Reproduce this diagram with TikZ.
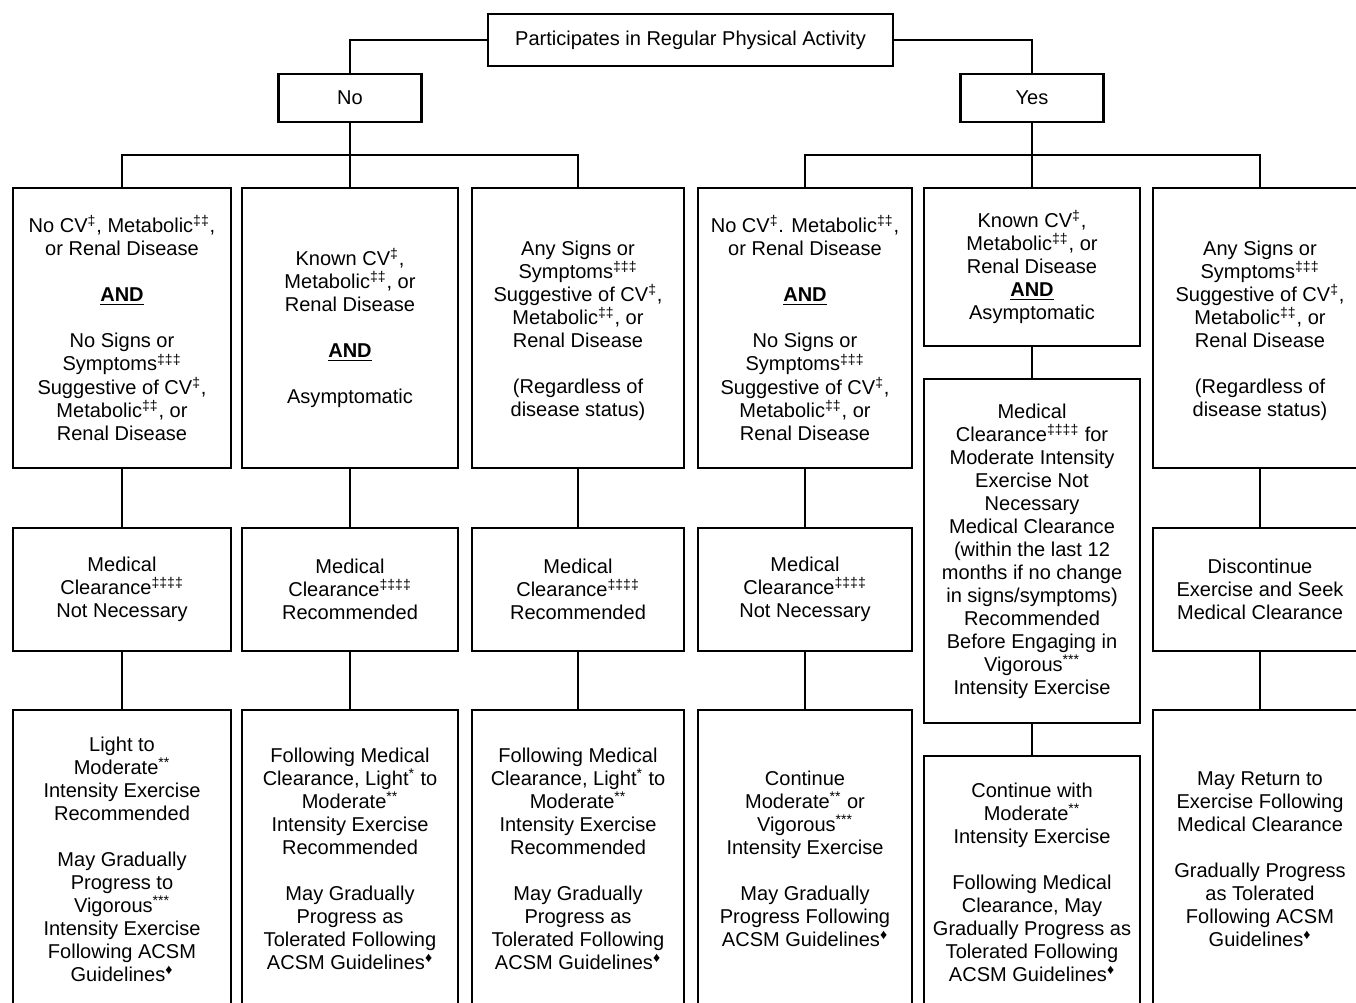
\documentclass[tikz,border=0pt]{standalone}
\usepackage{fontspec}
\setmainfont{Liberation Sans}
\newcommand{\supx}[1]{\textsuperscript{#1}}
\newcommand{\andx}{\underline{\textbf{AND}}}
\newcommand{\topgap}[1]{\rule{0pt}{#1}}
\begin{document}
\begin{tikzpicture}[x=0.02cm,y=-0.02cm,
  bx/.style={draw, line width=1.4pt, align=center, inner sep=0pt,
    font=\fontsize{11.4}{13.1}\selectfont},
  conn/.style={draw, line width=1.1pt}]
\useasboundingbox (0,0) rectangle (1356,1003);
% top level
\node[bx, minimum width=8.1cm, minimum height=1.04cm] (top) at (690.5,40) {Participates in Regular Physical Activity};
\node[bx, minimum width=2.86cm, minimum height=0.96cm] (no) at (350,98) {No};
\node[bx, minimum width=2.86cm, minimum height=0.96cm] (yes) at (1032,98) {Yes};
% row 1
\node[bx, minimum width=4.36cm, minimum height=5.6cm] (c1r1) at (122,328) {No CV\supx{‡}, Metabolic\supx{‡‡},\\ or Renal Disease\\[13.1pt] \andx\\[13.1pt] No Signs or\\ Symptoms\supx{‡‡‡}\\ Suggestive of CV\supx{‡},\\ Metabolic\supx{‡‡}, or\\ Renal Disease};
\node[bx, minimum width=4.32cm, minimum height=5.6cm] (c2r1) at (350,328) {Known CV\supx{‡},\\ Metabolic\supx{‡‡}, or\\ Renal Disease\\[13.1pt] \andx\\[13.1pt] Asymptomatic};
\node[bx, minimum width=4.24cm, minimum height=5.6cm] (c3r1) at (578,328) {\topgap{11.3pt}Any Signs or\\ Symptoms\supx{‡‡‡}\\ Suggestive of CV\supx{‡},\\ Metabolic\supx{‡‡}, or\\ Renal Disease\\[13.1pt] (Regardless of\\ disease status)};
\node[bx, minimum width=4.28cm, minimum height=5.6cm] (c4r1) at (805,328) {No CV\supx{‡}. Metabolic\supx{‡‡},\\ or Renal Disease\\[13.1pt] \andx\\[13.1pt] No Signs or\\ Symptoms\supx{‡‡‡}\\ Suggestive of CV\supx{‡},\\ Metabolic\supx{‡‡}, or\\ Renal Disease};
\node[bx, minimum width=4.32cm, minimum height=3.16cm] (c5r1) at (1032,267) {Known CV\supx{‡},\\ Metabolic\supx{‡‡}, or\\ Renal Disease\\ \andx\\ Asymptomatic};
\node[bx, minimum width=4.28cm, minimum height=5.6cm] (c6r1) at (1260,328) {\topgap{11.3pt}Any Signs or\\ Symptoms\supx{‡‡‡}\\ Suggestive of CV\supx{‡},\\ Metabolic\supx{‡‡}, or\\ Renal Disease\\[13.1pt] (Regardless of\\ disease status)};
% row 2
\node[bx, minimum width=4.36cm, minimum height=2.46cm] (c1r2) at (122,589.5) {Medical\\ Clearance\supx{‡‡‡‡}\\ Not Necessary};
\node[bx, minimum width=4.32cm, minimum height=2.46cm] (c2r2) at (350,589.5) {Medical\\ Clearance\supx{‡‡‡‡}\\ Recommended};
\node[bx, minimum width=4.24cm, minimum height=2.46cm] (c3r2) at (578,589.5) {Medical\\ Clearance\supx{‡‡‡‡}\\ Recommended};
\node[bx, minimum width=4.28cm, minimum height=2.46cm] (c4r2) at (805,589.5) {Medical\\ Clearance\supx{‡‡‡‡}\\ Not Necessary};
\node[bx, minimum width=4.32cm, minimum height=6.88cm] (c5r2) at (1032,551) {Medical\\ Clearance\supx{‡‡‡‡} for\\ Moderate Intensity\\ Exercise Not\\ Necessary\\ Medical Clearance\\ (within the last 12\\ months if no change\\ in signs/symptoms)\\ Recommended\\ Before Engaging in\\ Vigorous\supx{***}\\ Intensity Exercise};
\node[bx, minimum width=4.28cm, minimum height=2.46cm] (c6r2) at (1260,589.5) {Discontinue\\ Exercise and Seek\\ Medical Clearance};
% row 3
\node[bx, minimum width=4.36cm, minimum height=5.96cm] (c1r3) at (122,859) {Light to\\ Moderate\supx{**}\\ Intensity Exercise\\ Recommended\\[13.1pt] May Gradually\\ Progress to\\ Vigorous\supx{***}\\ Intensity Exercise\\ Following ACSM\\ Guidelines\supx{♦}};
\node[bx, minimum width=4.32cm, minimum height=5.96cm] (c2r3) at (350,859) {Following Medical\\ Clearance, Light\supx{*} to\\ Moderate\supx{**}\\ Intensity Exercise\\ Recommended\\[13.1pt] May Gradually\\ Progress as\\ Tolerated Following\\ ACSM Guidelines\supx{♦}};
\node[bx, minimum width=4.24cm, minimum height=5.96cm] (c3r3) at (578,859) {Following Medical\\ Clearance, Light\supx{*} to\\ Moderate\supx{**}\\ Intensity Exercise\\ Recommended\\[13.1pt] May Gradually\\ Progress as\\ Tolerated Following\\ ACSM Guidelines\supx{♦}};
\node[bx, minimum width=4.28cm, minimum height=5.96cm] (c4r3) at (805,859) {Continue\\ Moderate\supx{**} or\\ Vigorous\supx{***}\\ Intensity Exercise\\[13.1pt] May Gradually\\ Progress Following\\ ACSM Guidelines\supx{♦}};
\node[bx, minimum width=4.32cm, minimum height=5.04cm] (c5r3) at (1032,882) {Continue with\\ Moderate\supx{**}\\ Intensity Exercise\\[13.1pt] Following Medical\\ Clearance, May\\ Gradually Progress as\\ Tolerated Following\\ ACSM Guidelines\supx{♦}};
\node[bx, minimum width=4.28cm, minimum height=5.96cm] (c6r3) at (1260,859) {May Return to\\ Exercise Following\\ Medical Clearance\\[13.1pt] Gradually Progress\\ as Tolerated\\ Following ACSM\\ Guidelines\supx{♦}};
% branch points
\coordinate (nb) at (350,155);
\coordinate (yb) at (1032,155);
% connectors
\draw[conn] (top.west) -| (no.north);
\draw[conn] (top.east) -| (yes.north);
\draw[conn] (no.south) -- (c2r1.north);
\draw[conn] (c1r1.north) |- (nb) -| (c3r1.north);
\draw[conn] (yes.south) -- (c5r1.north);
\draw[conn] (c4r1.north) |- (yb) -| (c6r1.north);
\foreach \c in {c1,c2,c3,c4,c5,c6}{
  \draw[conn] (\c r1.south) -- (\c r2.north);
  \draw[conn] (\c r2.south) -- (\c r3.north);
}
\end{tikzpicture}
\end{document}
